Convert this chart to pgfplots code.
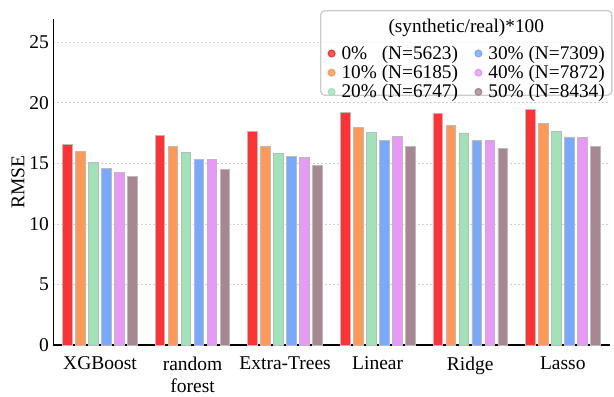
\documentclass[border=0pt]{standalone}
\usepackage{pgfplots}
\pgfplotsset{compat=1.18}
\usepackage{fontspec}
\setmainfont{Liberation Serif}
\definecolor{c0}{HTML}{FF3333}
\definecolor{c1}{HTML}{FF9955}
\definecolor{c2}{HTML}{A0E3B8}
\definecolor{c3}{HTML}{77AAFF}
\definecolor{c4}{HTML}{E899F8}
\definecolor{c5}{HTML}{A88890}
\definecolor{edge}{HTML}{BBBBBB}
\newcommand{\tf}{\fontsize{19.5}{22.4}\selectfont}
\newcommand{\lf}{\fontsize{19.3}{21}\selectfont}
\begin{document}
\begin{tikzpicture}
\begin{axis}[
  at={(0,0)}, anchor=south west,
  scale only axis, width=556pt, height=326.3pt,
  ybar, bar width=9.5pt,
  xmin=-0.503, xmax=5.505, ymin=0, ymax=26.9,
  xtick={0,1,2,3,4,5},
  xticklabels={XGBoost,{random\\forest},Extra-Trees,Linear,Ridge,Lasso},
  ytick={0,5,10,15,20,25},
  axis x line*=bottom, axis y line*=left,
  axis line style={line width=1.8pt, black, -},
  major tick length=0pt,
  ymajorgrids,
  major grid style={dash pattern=on 2pt off 2pt, black!18, line width=0.8pt},
  /pgf/number format/assume math mode=true,
  tick label style={font=\tf},
  xticklabel style={align=center, yshift=-8pt},
  yticklabel style={xshift=-1pt},
  ylabel={RMSE}, ylabel style={font=\tf, yshift=-2pt},
  legend columns=2,
  legend cell align=left,
  legend style={at={(1,1)}, anchor=north east, xshift=3pt, yshift=9pt,
    draw=black!20, line width=1.3pt, rounded corners=4pt,
    fill=white, fill opacity=0.8, text opacity=1, draw opacity=1,
    font=\lf, inner xsep=7pt, inner ysep=-5pt, row sep=2.5pt,
    nodes={inner xsep=0pt, inner ysep=0.9pt},
    /tikz/every odd column/.append style={column sep=6pt},
    /tikz/every even column/.append style={column sep=16.4pt},
    name=leg},
]
\addlegendimage{empty legend}\addlegendentry{\rule{0pt}{33.7pt}}
\addlegendimage{empty legend}\addlegendentry{\rule{0pt}{33.7pt}}
\addlegendimage{legend image code/.code={\fill[c0] (0pt,0pt) circle (3.3pt);}}\addlegendentry{0\%\phantom{0} (N=5623)}
\addlegendimage{legend image code/.code={\fill[c3] (0pt,0pt) circle (3.3pt);}}\addlegendentry{30\% (N=7309)}
\addlegendimage{legend image code/.code={\fill[c1] (0pt,0pt) circle (3.3pt);}}\addlegendentry{10\% (N=6185)}
\addlegendimage{legend image code/.code={\fill[c4] (0pt,0pt) circle (3.3pt);}}\addlegendentry{40\% (N=7872)}
\addlegendimage{legend image code/.code={\fill[c2] (0pt,0pt) circle (3.3pt);}}\addlegendentry{20\% (N=6747)}
\addlegendimage{legend image code/.code={\fill[c5] (0pt,0pt) circle (3.3pt);}}\addlegendentry{50\% (N=8434)}
\addplot[fill=c0, draw=edge, line width=0.8pt, bar shift=-32.5pt] coordinates {(0,16.56) (1,17.30) (2,17.62) (3,19.19) (4,19.15) (5,19.48)};
\addplot[fill=c1, draw=edge, line width=0.8pt, bar shift=-19.5pt] coordinates {(0,15.95) (1,16.39) (2,16.39) (3,17.98) (4,18.12) (5,18.28)};
\addplot[fill=c2, draw=edge, line width=0.8pt, bar shift=-6.5pt] coordinates {(0,15.08) (1,15.93) (2,15.82) (3,17.54) (4,17.51) (5,17.63)};
\addplot[fill=c3, draw=edge, line width=0.8pt, bar shift=6.5pt] coordinates {(0,14.61) (1,15.33) (2,15.57) (3,16.89) (4,16.91) (5,17.18)};
\addplot[fill=c4, draw=edge, line width=0.8pt, bar shift=19.5pt] coordinates {(0,14.28) (1,15.33) (2,15.49) (3,17.19) (4,16.86) (5,17.10)};
\addplot[fill=c5, draw=edge, line width=0.8pt, bar shift=32.5pt] coordinates {(0,13.93) (1,14.53) (2,14.80) (3,16.36) (4,16.26) (5,16.42)};
\end{axis}
\node[font=\lf, anchor=north, inner sep=0pt] at ([yshift=-9.3pt]leg.north) {(synthetic/real)*100};
\path[use as bounding box] (-53.5pt,-50.7pt) rectangle (560.5pt,345.3pt);
\end{tikzpicture}
\end{document}
